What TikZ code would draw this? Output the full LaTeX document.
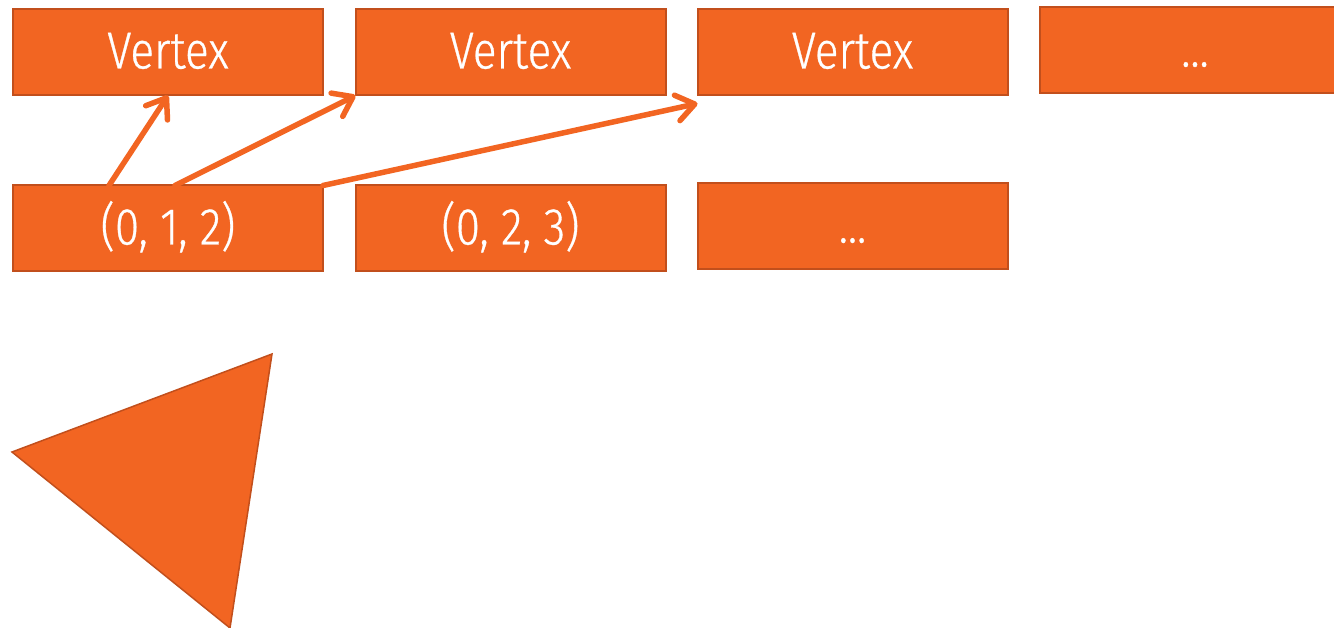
\documentclass[tikz,border=0pt]{standalone}
\usepackage{fontspec}
\newfontfamily\labelfont[FakeStretch=0.85,FakeBold=0.6]{Fira Sans Light}
\usetikzlibrary{arrows.meta,calc}
\definecolor{boxfill}{HTML}{F26522}
\definecolor{boxline}{HTML}{C24F1C}
\tikzset{
  cell/.style={draw=boxline, fill=boxfill, line width=2pt,
    minimum width=310pt, minimum height=86pt, outer sep=0pt, inner sep=0pt,
    text height=32pt, text depth=0pt,
    text=white, font=\labelfont\fontsize{52}{54}\selectfont},
  link/.style={draw=boxfill, line width=5.5pt, line cap=round,
    -{Straight Barb[length=18pt,width=26pt,round]}},
}
\begin{document}
\begin{tikzpicture}[x=1pt,y=-1pt]
  \useasboundingbox (0,0) rectangle (1334,628);
  % vertex buffer
  \node[cell] (v1) at (168,52.5) {Vertex};
  \node[cell] (v2) at (510.5,52.5) {Vertex};
  \node[cell] (v3) at (852.5,52.5) {Vertex};
  \node[cell] (v4) at (1195,50.5) {...};
  % index buffer
  \node[cell] (r1) at (168,228.5) {(0, 1, 2)};
  \node[cell] (r2) at (510.5,228.5) {(0, 2, 3)};
  \node[cell] (r3) at (852.5,226.5) {...};
  % indices pointing at vertices
  \coordinate (a1) at ($(r1.north west)+(96,0)$);
  \coordinate (a2) at ($(r1.north)+(7,0)$);
  \coordinate (t3) at ($(v3.south west)+(0,8)$);
  \draw[link] (a1) -- (v1.south);
  \draw[link] (a2) -- (v2.south west);
  \draw[link] (r1.north east) -- (t3);
  % resulting triangle
  \node[coordinate] (p1) at (12,452) {};
  \node[coordinate] (p2) at (272,354) {};
  \node[coordinate] (p3) at (230,628) {};
  \draw[draw=boxline, fill=boxfill, line width=1.5pt, line join=miter]
    (p1) -- (p2) -- (p3) -- cycle;
\end{tikzpicture}
\end{document}
